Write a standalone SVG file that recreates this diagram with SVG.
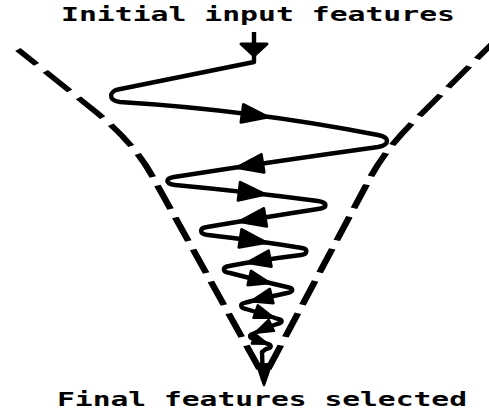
<svg xmlns="http://www.w3.org/2000/svg" xmlns:xlink="http://www.w3.org/1999/xlink" width="489" height="414" viewBox="0 0 489 414">
  <style>
    .lbl { font-family: "DejaVu Sans Mono", "Liberation Mono", monospace; font-weight: bold; fill: #000; }
    .funnel { fill: none; stroke: #000; stroke-width: 4.4; stroke-dasharray: 25 9; stroke-linecap: butt; }
    .path { fill: none; stroke: #000; stroke-width: 4.4; stroke-linejoin: round; stroke-linecap: butt; }
    .head { fill: #000; stroke: #000; stroke-width: 3; stroke-linejoin: round; }
  </style>
  <defs>
    <path id="ah" d="M0,0 L-26,-9 L-26,9 Z"/>
  </defs>
  <rect width="489" height="414" fill="#fff"/>

  <g id="label-top">
    <text class="lbl" x="61" y="21" font-size="19.5" textLength="394" lengthAdjust="spacingAndGlyphs">Initial input features</text>
  </g>
  <g id="label-bottom">
    <text class="lbl" x="57" y="406" font-size="19.5" textLength="410" lengthAdjust="spacingAndGlyphs">Final features selected</text>
  </g>

  <g id="funnel" transform="translate(262,0) scale(1.55,1) translate(-262,0)">
    <path class="funnel" d="M260.4,369 L190.8,175 Q178.9,141.8 153.3,110 L104.5,49.5"/>
    <path class="funnel" d="M266,369 L329.3,185 Q340.1,150.3 364.1,115 L419.3,30"/>
  </g>

  <g id="connectors">
    <path class="path" d="M254,32 L254,62 L118,89.5 C110,91 107,100 120,102 Q250,110 378,135 C390,137.3 390,144.5 378,147 Q270,162 174,177 C165,178.5 165,184 175,185 Q250,192 318,201 C328,202.5 328,208 318,209 Q260,218 207,227 C199,228 199,234 208,235 Q260,241 302,248 C308,249 308,254 301,255 Q260,260 229,266 C222,267 222,272 230,273 Q265,282 287,287 C294,288 294,292 287,293 Q255,300 244,303 C240,304 240,308 246,309 Q270,316 278,319 C283,320 283,323 277,324 Q260,330 253,334 C249,335 249,338 254,339 L268,344 C272,345 272,348 266,349 L262,352 L263,380"/>
    <path class="head" d="M241,44 L267,44 L254,56 Z"/>
    <use xlink:href="#ah" class="head" transform="translate(268,117) rotate(8)"/>
    <use xlink:href="#ah" class="head" transform="translate(237,167.5) rotate(171)"/>
    <use xlink:href="#ah" class="head" transform="translate(265,194.3) rotate(6.5)"/>
    <use xlink:href="#ah" class="head" transform="translate(239.5,221.6) rotate(170.6)"/>
    <use xlink:href="#ah" class="head" transform="translate(266,242.5) rotate(9)"/>
    <use xlink:href="#ah" class="head" transform="translate(247,262.7) rotate(170) scale(0.9)"/>
    <use xlink:href="#ah" class="head" transform="translate(270,283) rotate(13.6) scale(0.82)"/>
    <use xlink:href="#ah" class="head" transform="translate(251,301.2) rotate(166) scale(0.82)"/>
    <use xlink:href="#ah" class="head" transform="translate(274,317.8) rotate(19) scale(0.75)"/>
    <use xlink:href="#ah" class="head" transform="translate(255,333) rotate(155) scale(0.7)"/>
    <use xlink:href="#ah" class="head" transform="translate(268,344) rotate(20) scale(0.6)"/>
    <use xlink:href="#ah" class="head" transform="translate(264,385) rotate(90) scale(0.8)"/>
  </g>
</svg>
